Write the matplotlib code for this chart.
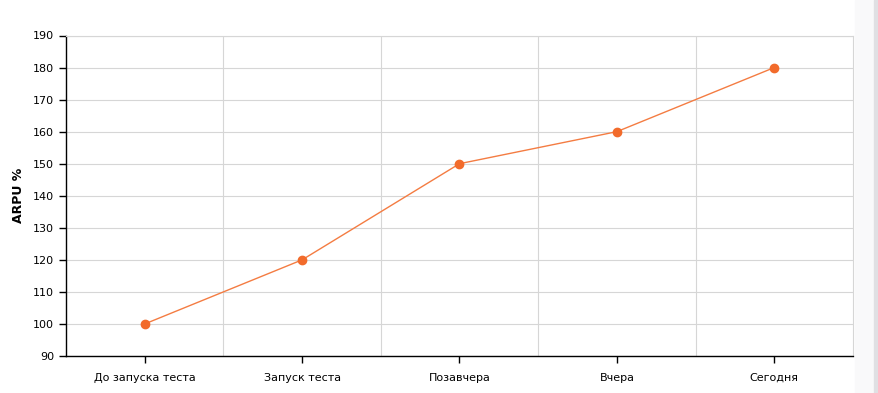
import matplotlib.pyplot as plt
from matplotlib.patches import Rectangle

categories = ['До запуска теста', 'Запуск теста', 'Позавчера', 'Вчера', 'Сегодня']
arpu = [100, 120, 150, 160, 180]
y_ticks = [90, 100, 110, 120, 130, 140, 150, 160, 170, 180, 190]

fig = plt.figure(figsize=(8.79, 3.93), dpi=100)
ax = fig.add_axes([66 / 879, 1 - 356 / 393, (853 - 66) / 879, (356 - 35.5) / 393])

# right scroll strip
fig.patches.append(Rectangle((855 / 879, 0), 19 / 879, 1, transform=fig.transFigure,
                             color='#f9f9fa', zorder=0))
fig.patches.append(Rectangle((874 / 879, 0), 5 / 879, 1, transform=fig.transFigure,
                             color='#e0e0e3', zorder=0))

x = list(range(len(categories)))
ax.plot(x, arpu, color='#f47c42', lw=1, marker='o', markersize=6,
        markerfacecolor='#f26b2b', markeredgecolor='#f26b2b', zorder=3)

ax.set_xlim(-0.5, len(categories) - 0.5)
ax.set_ylim(90, 190)
ax.set_yticks(y_ticks)
ax.set_xticks(x)
ax.set_xticklabels(categories)
ax.set_xticks([i + 0.5 for i in x[:-1]], minor=True)

ax.grid(axis='y', color='#d6d6d6', lw=0.8)
ax.grid(axis='x', which='minor', color='#d6d6d6', lw=0.8)
ax.set_axisbelow(True)

for s in ['top', 'right']:
    ax.spines[s].set_color('#d6d6d6')
    ax.spines[s].set_linewidth(0.8)
for s in ['left', 'bottom']:
    ax.spines[s].set_color('black')
    ax.spines[s].set_linewidth(1)

ax.tick_params(axis='both', which='major', length=5, width=1, labelsize=8, colors='black')
ax.tick_params(axis='x', which='minor', length=0)
ax.tick_params(axis='x', pad=7)

ax.set_ylabel('ARPU %', fontsize=9, fontweight='bold', labelpad=6)

fig.savefig('out.png', dpi=100)
